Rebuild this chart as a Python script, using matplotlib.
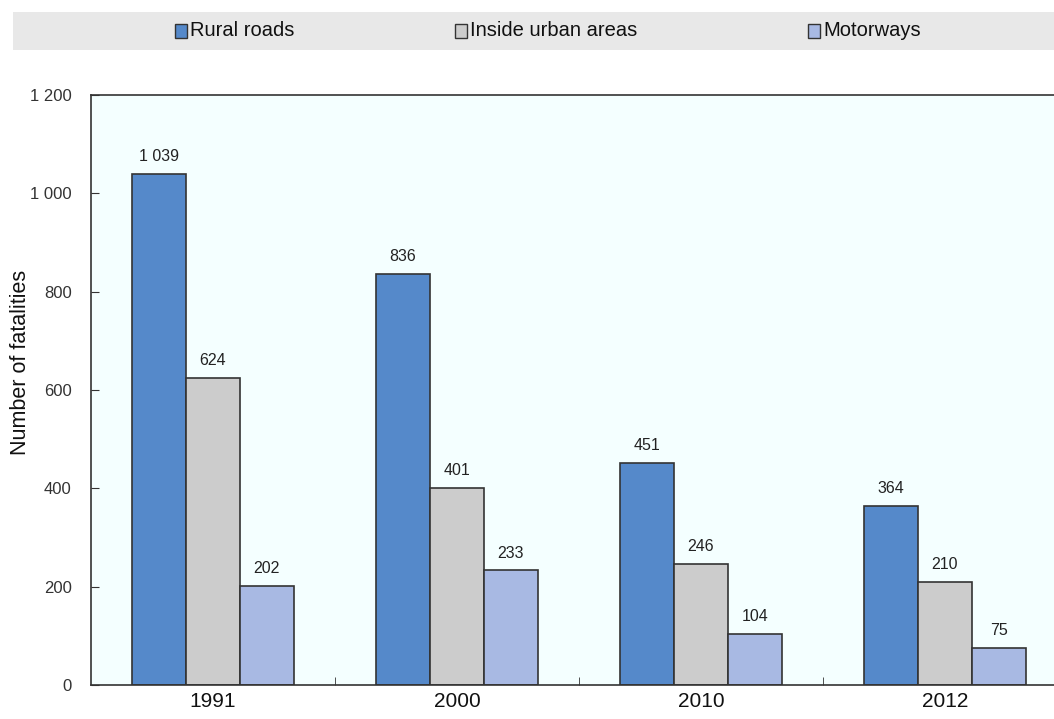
import matplotlib
matplotlib.use("Agg")
import matplotlib.pyplot as plt
import numpy as np
from matplotlib.patches import Rectangle

years = ["1991", "2000", "2010", "2012"]
rural = [1039, 836, 451, 364]
urban = [624, 401, 246, 210]
motorways = [202, 233, 104, 75]
series_names = ["Rural roads", "Inside urban areas", "Motorways"]
colors = ["#5589CA", "#CCCCCC", "#A8B9E3"]
yticks = [0, 200, 400, 600, 800, 1000, 1200]

font = ["Liberation Sans Narrow", "Liberation Sans", "DejaVu Sans"]
plt.rcParams['font.family'] = font

fig = plt.figure(figsize=(10.54, 7.19), dpi=100)
W, H = 1054, 719
ax = fig.add_axes([91 / W, 1 - 685 / H, 976 / W, (685 - 95) / H])
ax.set_facecolor("#F4FFFF")

x = np.arange(len(years))
w = 0.221
for i, (vals, name, c) in enumerate(zip([rural, urban, motorways], series_names, colors)):
    bars = ax.bar(x + (i - 1) * w, vals, width=w, color=c, edgecolor="#333333", linewidth=1.2, label=name)
    for b, v in zip(bars, vals):
        lbl = f"{v:,}".replace(",", " ")
        ax.text(b.get_x() + b.get_width() / 2, v + 20, lbl, ha="center", va="bottom",
                fontsize=11.5, color="#222222")

ax.set_xlim(-0.5, len(years) - 0.5)
ax.set_ylim(0, 1200)
ax.set_yticks(yticks)
ax.set_yticklabels([f"{t:,}".replace(",", " ") for t in yticks], fontsize=12, color="#333333")
ax.set_xticks(x)
ax.set_xticklabels(years, fontsize=15, color="#111111")
ax.tick_params(axis="x", length=0, pad=5)
ax.set_xticks(np.arange(0.5, len(years) - 0.5, 1), minor=True)
ax.tick_params(axis="x", which="minor", direction="in", length=6, color="#333333")
ax.tick_params(axis="y", direction="in", length=6, color="#333333", pad=14)
ax.spines["right"].set_visible(False)
for s in ["left", "top", "bottom"]:
    ax.spines[s].set_color("#333333")
    ax.spines[s].set_linewidth(1.2)
ax.set_ylabel("Number of fatalities", fontsize=15.5, color="#111111")
ax.yaxis.set_label_coords(-60 / 976, 0.547)

# legend band
fig.patches.append(Rectangle((13 / W, 1 - 50 / H), (W - 13) / W, 38 / H,
                             transform=fig.transFigure, facecolor="#E8E8E8", edgecolor="none"))
legend_x = [175, 455, 808]
for lx, name, c in zip(legend_x, series_names, colors):
    fig.patches.append(Rectangle(((lx) / W, 1 - 38 / H), 12 / W, 14 / H, transform=fig.transFigure,
                                 facecolor=c, edgecolor="#333333", linewidth=1))
    fig.text((lx + 15) / W, 1 - 31 / H, name, fontsize=14.5, va="center", ha="left", color="#111111")

fig.savefig("out.png", dpi=100)
